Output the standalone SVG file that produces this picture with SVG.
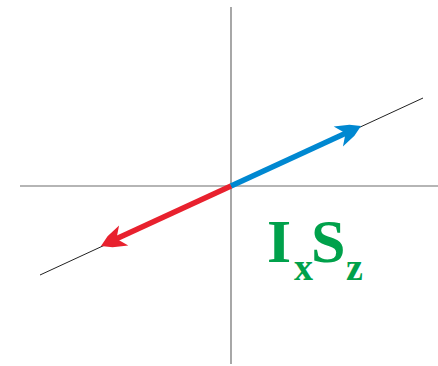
<svg xmlns="http://www.w3.org/2000/svg" width="438" height="366" viewBox="0 0 438 366">
<style>
.axis{stroke:#6d6d6d;stroke-width:1.2;fill:none}
.diag{stroke:#222;stroke-width:1;fill:none}
.lbl{font-family:"Liberation Serif","Times New Roman",serif;font-weight:bold;fill:#00a14b}
</style>
<defs>
<marker id="ahB" markerUnits="userSpaceOnUse" viewBox="-30 -14 32 28" markerWidth="32" markerHeight="28" refX="-14" refY="0" orient="auto">
<path d="M0,0 L-10,-6 L-25,-11 L-17,0 L-25,11 L-10,6 Z" fill="#0088d1"/>
</marker>
<marker id="ahR" markerUnits="userSpaceOnUse" viewBox="-30 -14 32 28" markerWidth="32" markerHeight="28" refX="-14" refY="0" orient="auto">
<path d="M0,0 L-10,-6 L-25,-11 L-17,0 L-25,11 L-10,6 Z" fill="#e8212e"/>
</marker>
</defs>
<g id="axes">
<line class="axis" x1="231" y1="7" x2="231" y2="364"/>
<line class="axis" x1="20" y1="186" x2="438" y2="186"/>
<line class="diag" x1="40" y1="275" x2="423" y2="98"/>
</g>
<g id="connectors">
<line x1="231" y1="186" x2="348.3" y2="131.9" stroke="#0088d1" stroke-width="5.5" marker-end="url(#ahB)"/>
<line x1="231" y1="186" x2="113.7" y2="240.1" stroke="#e8212e" stroke-width="5.5" marker-end="url(#ahR)"/>
</g>
<g id="label">
<text class="lbl" x="267" y="262" font-size="62">I</text>
<text class="lbl" x="294" y="280" font-size="38">x</text>
<text class="lbl" x="311" y="262" font-size="62">S</text>
<text class="lbl" x="346" y="280" font-size="38">z</text>
</g>
</svg>
